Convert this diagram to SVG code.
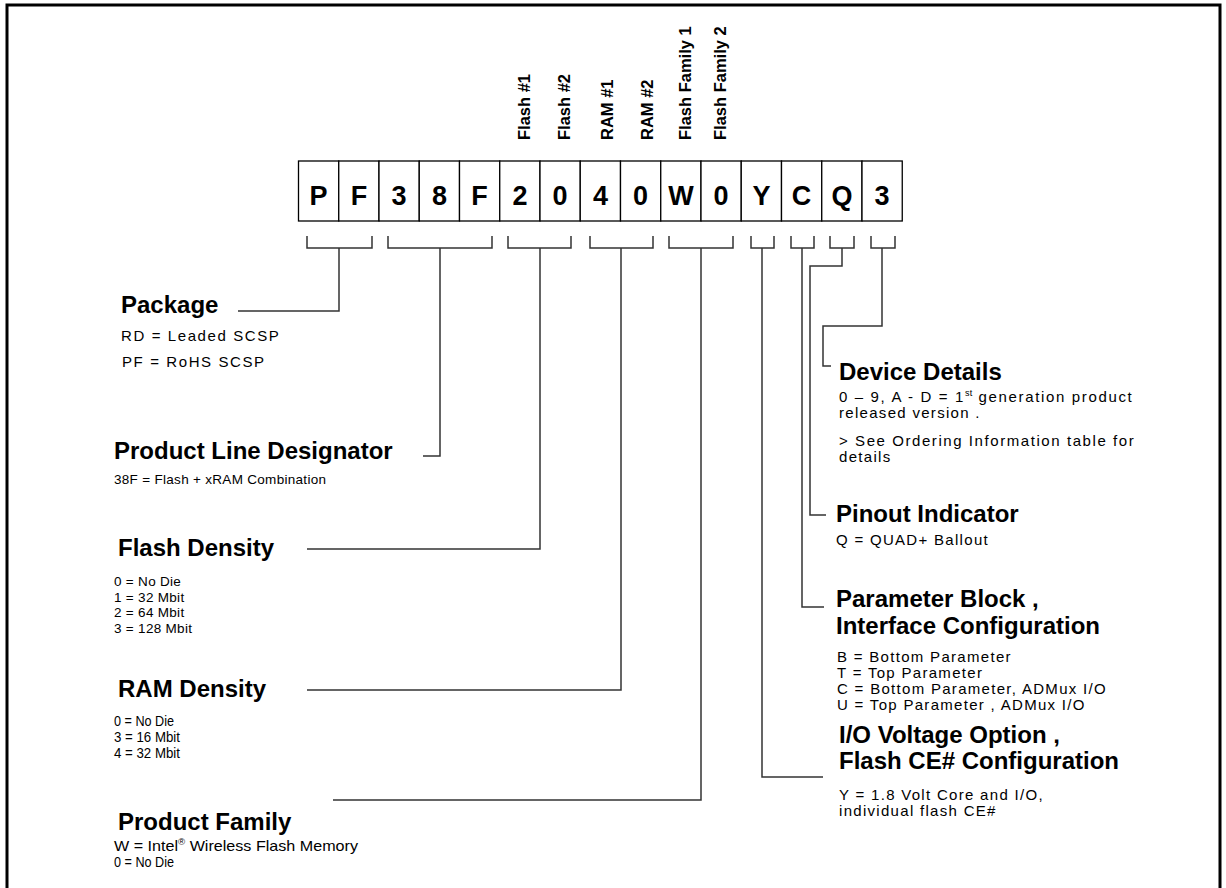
<svg xmlns="http://www.w3.org/2000/svg" width="1226" height="888" viewBox="0 0 1226 888">
<style>
text{font-family:"Liberation Sans",Arial,sans-serif;fill:#000}
.h{font-size:24px;font-weight:bold}
.bs{font-size:15px;letter-spacing:1.3px}
.bl{font-size:13.5px;letter-spacing:0.3px}
.bn{font-size:15px}
.box{fill:#fff;stroke:#000;stroke-width:1.3}
.ch{font-size:27px;font-weight:bold;text-anchor:middle}
.rot{font-size:16.5px;font-weight:bold}
.ln{fill:none;stroke:#333;stroke-width:1.5}
.sup{font-size:9px;letter-spacing:0}
</style>
<rect width="1226" height="888" fill="#fff"/>
<path d="M7,890 V5 H1220 V890" fill="none" stroke="#000" stroke-width="3"/>

<g id="code-boxes">
<rect class="box" x="298.5" y="161" width="40.25" height="60"/>
<rect class="box" x="338.75" y="161" width="40.25" height="60"/>
<rect class="box" x="379" y="161" width="40.25" height="60"/>
<rect class="box" x="419.25" y="161" width="40.25" height="60"/>
<rect class="box" x="459.5" y="161" width="40.25" height="60"/>
<rect class="box" x="499.75" y="161" width="40.25" height="60"/>
<rect class="box" x="540" y="161" width="40.25" height="60"/>
<rect class="box" x="580.25" y="161" width="40.25" height="60"/>
<rect class="box" x="620.5" y="161" width="40.25" height="60"/>
<rect class="box" x="660.75" y="161" width="40.25" height="60"/>
<rect class="box" x="701" y="161" width="40.25" height="60"/>
<rect class="box" x="741.25" y="161" width="40.25" height="60"/>
<rect class="box" x="781.5" y="161" width="40.25" height="60"/>
<rect class="box" x="821.75" y="161" width="40.25" height="60"/>
<rect class="box" x="862" y="161" width="40.25" height="60"/>
<text class="ch" x="318.6" y="205">P</text>
<text class="ch" x="358.9" y="205">F</text>
<text class="ch" x="399.1" y="205">3</text>
<text class="ch" x="439.4" y="205">8</text>
<text class="ch" x="479.6" y="205">F</text>
<text class="ch" x="519.9" y="205">2</text>
<text class="ch" x="560.1" y="205">0</text>
<text class="ch" x="600.4" y="205">4</text>
<text class="ch" x="640.6" y="205">0</text>
<text class="ch" x="680.9" y="205">W</text>
<text class="ch" x="721.1" y="205">0</text>
<text class="ch" x="761.4" y="205">Y</text>
<text class="ch" x="801.6" y="205">C</text>
<text class="ch" x="841.9" y="205">Q</text>
<text class="ch" x="882.1" y="205">3</text>
</g>

<g id="digit-labels">
<text class="rot" transform="translate(530,140) rotate(-90)">Flash #1</text>
<text class="rot" transform="translate(570,140) rotate(-90)">Flash #2</text>
<text class="rot" transform="translate(613,140) rotate(-90)">RAM #1</text>
<text class="rot" transform="translate(653,140) rotate(-90)">RAM #2</text>
<text class="rot" transform="translate(691,140) rotate(-90)">Flash Family 1</text>
<text class="rot" transform="translate(726,140) rotate(-90)">Flash Family 2</text>
</g>

<g id="connectors">
<path class="ln" d="M307,236 V248 H372 V236"/>
<path class="ln" d="M388,236 V248 H492 V236"/>
<path class="ln" d="M508,236 V248 H571 V236"/>
<path class="ln" d="M590,236 V248 H653 V236"/>
<path class="ln" d="M669,236 V248 H733 V236"/>
<path class="ln" d="M751,236 V248 H774 V236"/>
<path class="ln" d="M791,236 V248 H814 V236"/>
<path class="ln" d="M830,236 V248 H854 V236"/>
<path class="ln" d="M871,236 V248 H895 V236"/>
<path class="ln" d="M339,248 V311 H238"/>
<path class="ln" d="M440,248 V456 H423"/>
<path class="ln" d="M540,248 V549 H307"/>
<path class="ln" d="M621,248 V690 H307"/>
<path class="ln" d="M701,248 V800 H333"/>
<path class="ln" d="M882,248 V326 H823 V366 H831"/>
<path class="ln" d="M842,248 V266 H810 V515 H826"/>
<path class="ln" d="M802,248 V607 H824"/>
<path class="ln" d="M762,248 V777 H823"/>
</g>

<g id="package">
<text class="h" x="121" y="313">Package</text>
<text class="bs" x="121" y="341" style="letter-spacing:1.6px">RD =  Leaded SCSP</text>
<text class="bs" x="122" y="367" style="letter-spacing:1.6px">PF =  RoHS SCSP</text>
</g>

<g id="product-line">
<text class="h" x="114" y="459">Product Line Designator</text>
<text class="bl" x="114" y="484">38F = Flash + xRAM Combination</text>
</g>

<g id="flash-density">
<text class="h" x="118" y="556">Flash Density</text>
<text class="bl" x="114" y="586">0 = No Die</text>
<text class="bl" x="114" y="602">1 = 32 Mbit</text>
<text class="bl" x="114" y="617">2 = 64 Mbit</text>
<text class="bl" x="114" y="633">3 = 128  Mbit</text>
</g>

<g id="ram-density">
<text class="h" x="118" y="697">RAM Density</text>
<text class="bn" x="114" y="726" textLength="60" lengthAdjust="spacingAndGlyphs">0 = No Die</text>
<text class="bn" x="114" y="742" textLength="66" lengthAdjust="spacingAndGlyphs">3 = 16 Mbit</text>
<text class="bn" x="114" y="758" textLength="66" lengthAdjust="spacingAndGlyphs">4 = 32 Mbit</text>
</g>

<g id="product-family">
<text class="h" x="118" y="830">Product Family</text>
<text class="bn" x="114" y="851" textLength="244" lengthAdjust="spacingAndGlyphs">W = Intel<tspan class="sup" dy="-6">®</tspan><tspan dy="6"> Wireless Flash Memory</tspan></text>
<text class="bn" x="114" y="867" textLength="60" lengthAdjust="spacingAndGlyphs">0 = No Die</text>
</g>

<g id="device-details">
<text class="h" x="839" y="380">Device Details</text>
<text class="bs" x="839" y="402" textLength="294">0 – 9, A - D = 1<tspan class="sup" dy="-6">st</tspan><tspan dy="6"> generation  product</tspan></text>
<text class="bs" x="839" y="418">released version .</text>
<text class="bs" x="839" y="446" textLength="296">&gt;  See Ordering Information table for</text>
<text class="bs" x="839" y="462">details</text>
</g>

<g id="pinout">
<text class="h" x="836" y="522">Pinout Indicator</text>
<text class="bs" x="836" y="545">Q = QUAD+ Ballout</text>
</g>

<g id="parameter-block">
<text class="h" x="836" y="607">Parameter Block ,</text>
<text class="h" x="836" y="634">Interface Configuration</text>
<text class="bs" x="837" y="662">B = Bottom Parameter</text>
<text class="bs" x="837" y="678">T = Top Parameter</text>
<text class="bs" x="837" y="694">C = Bottom Parameter,  ADMux I/O</text>
<text class="bs" x="837" y="710">U = Top Parameter , ADMux I/O</text>
</g>

<g id="io-voltage">
<text class="h" x="839" y="743">I/O Voltage Option ,</text>
<text class="h" x="839" y="769">Flash CE# Configuration</text>
<text class="bs" x="839" y="800">Y = 1.8 Volt Core and I/O,</text>
<text class="bs" x="839" y="816">individual flash CE#</text>
</g>
</svg>
